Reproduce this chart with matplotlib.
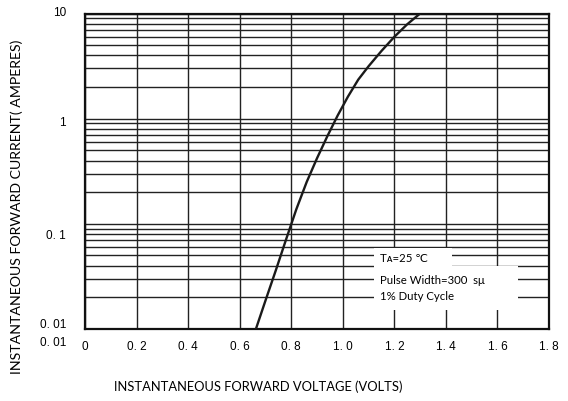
import matplotlib
matplotlib.use("Agg")
import matplotlib.pyplot as plt
import matplotlib.transforms as mtransforms
from matplotlib.patches import Rectangle
from matplotlib.ticker import LogLocator, NullFormatter

# curve
volts = [0.663, 0.70, 0.74, 0.78, 0.82, 0.86, 0.90, 0.94, 0.98,
         1.02, 1.06, 1.10, 1.15, 1.20, 1.25, 1.30]
amps = [0.010, 0.0186, 0.036, 0.071, 0.138, 0.25, 0.42, 0.68, 1.07,
        1.62, 2.35, 3.15, 4.4, 6.0, 7.9, 10.0]

x_ticks = [0, 0.2, 0.4, 0.6, 0.8, 1.0, 1.2, 1.4, 1.6, 1.8]
x_labels = ["0", "0. 2", "0. 4", "0. 6", "0. 8", "1. 0", "1. 2", "1. 4", "1. 6", "1. 8"]
y_ticks = [10, 1, 0.1, 0.01]
y_labels = ["10", "1", "0. 1", "0. 01"]

fig = plt.figure(figsize=(5.68, 4.01), dpi=100)
ax = fig.add_axes([85 / 568, 1 - 329 / 401, 464 / 568, 315.5 / 401])

ax.set_yscale("log")
ax.set_xlim(0, 1.8)
ax.set_ylim(0.01, 10)

# grid
ax.set_xticks(x_ticks)
ax.yaxis.set_major_locator(LogLocator(base=10))
ax.yaxis.set_minor_locator(LogLocator(base=10, subs=range(2, 10)))
ax.yaxis.set_minor_formatter(NullFormatter())
ax.grid(True, which="both", color="#222222", lw=1.0)
ax.set_axisbelow(True)
for s in ax.spines.values():
    s.set_linewidth(1.6)
    s.set_color("#111111")
ax.tick_params(which="both", length=0)

# x tick labels, nudged right a little like the original
ax.set_xticklabels(x_labels, family="Liberation Sans", fontsize=8.5)
for i, lab in enumerate(ax.get_xticklabels()):
    dx = 0.5 + i * 0.6
    lab.set_transform(lab.get_transform() +
                      mtransforms.ScaledTranslation(dx / 100, 0, fig.dpi_scale_trans))
ax.tick_params(axis="x", pad=9)

# y tick labels placed by hand
ax.set_yticklabels([])
ynudge = [0, -4, -12, 4]
for v, t, dy in zip(y_ticks, y_labels, ynudge):
    tr = mtransforms.blended_transform_factory(ax.transAxes, ax.transData) + \
        mtransforms.ScaledTranslation(0, dy / 100, fig.dpi_scale_trans)
    ax.text(-0.041, v, t, transform=tr, ha="right", va="center",
            family="Liberation Sans", fontsize=8.5)
ax.text(-0.041, 0.01, "0. 01", ha="right", va="center", family="Liberation Sans",
        fontsize=8.5,
        transform=mtransforms.blended_transform_factory(ax.transAxes, ax.transData) +
        mtransforms.ScaledTranslation(0, -14 / 100, fig.dpi_scale_trans))

ax.plot(volts, amps, color="#1a1a1a", lw=1.7, zorder=3)

# white note box
ax.add_patch(Rectangle((374 / 568, 1 - 310 / 401), 144 / 568, 44 / 401,
                       transform=fig.transFigure, facecolor="white",
                       edgecolor="none", zorder=2.5))
ax.add_patch(Rectangle((374 / 568, 1 - 266 / 401), 78 / 568, 18 / 401,
                       transform=fig.transFigure, facecolor="white",
                       edgecolor="none", zorder=2.5))
fig.text(380 / 568, 1 - 258 / 401, "Tᴀ=25 ℃", family=["Lato", "DejaVu Sans"],
         fontsize=8.2, va="center", zorder=4)
fig.text(380 / 568, 1 - 280 / 401, "Pulse Width=300  sμ", family=["Lato", "DejaVu Sans"],
         fontsize=8.2, va="center", zorder=4)
fig.text(380 / 568, 1 - 296 / 401, "1% Duty Cycle", family=["Lato", "DejaVu Sans"],
         fontsize=8.2, va="center", zorder=4)

fig.text(258 / 568, 1 - 387 / 401, "INSTANTANEOUS FORWARD VOLTAGE (VOLTS)",
         family="Lato", fontsize=9.3, ha="center", va="center")
fig.text(17 / 568, 1 - 207 / 401, "INSTANTANEOUS FORWARD CURRENT( AMPERES)",
         family="Lato", fontsize=10.2, ha="center", va="center", rotation=90)

fig.savefig("out.png", dpi=100)
